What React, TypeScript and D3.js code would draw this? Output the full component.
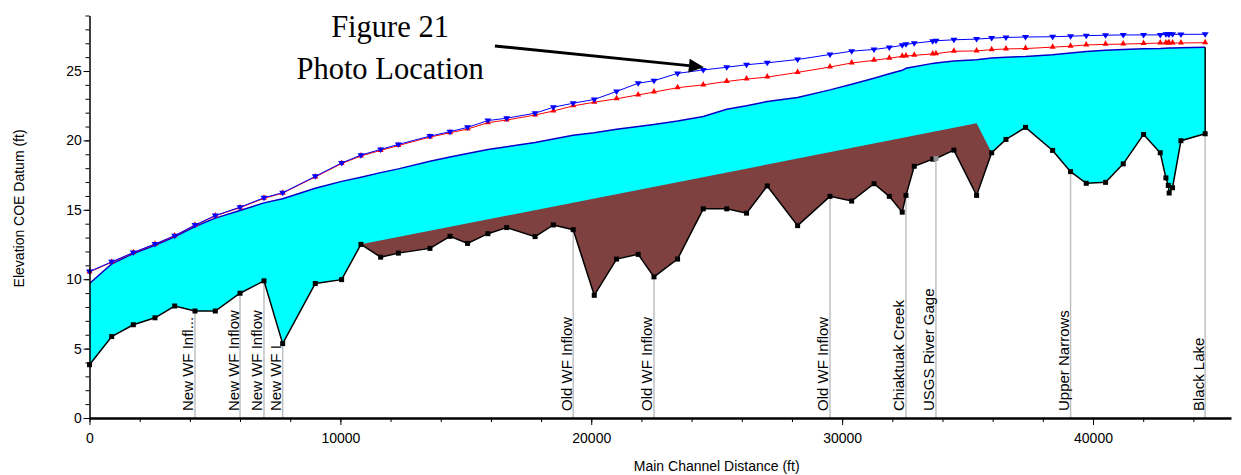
import React, { useEffect, useRef } from "react";
import * as d3 from "d3";

const width = 1241;
const height = 475;
const margin = { top: 15.5, right: 10, bottom: 57, left: 89.5 };

// cross sections (main channel distance, ft)
const stations = [
  0, 885, 1746, 2611, 3395, 4205, 5015, 6000, 6955, 7700, 9000, 10050, 10820,
  11605, 12310, 13570, 14370, 15070, 15880, 16630, 17760, 18490, 19280, 20120,
  21010, 21870, 22500, 23440, 24465, 25400, 26190, 27015, 28225, 29515, 30380,
  31270, 31880, 32395, 32545, 32875, 33610, 33740, 34455, 35360, 35960, 36530,
  37310, 38390, 39105, 39730, 40500, 41205, 42015, 42680, 42905, 43000, 43035,
  43170, 43505, 44470,
];

// channel bed
const bedElev = [
  3.84, 5.87, 6.72, 7.22, 8.07, 7.71, 7.71, 8.99, 9.88, 5.36, 9.69, 9.97, 12.51,
  11.59, 11.88, 12.22, 13.09, 12.58, 13.28, 13.72, 13.07, 13.91, 13.57, 8.84,
  11.45, 11.79, 10.17, 11.45, 15.07, 15.07, 14.76, 16.72, 13.86, 15.97, 15.63,
  16.88, 15.97, 14.83, 16.04, 18.14, 18.65, 18.7, 19.3, 16.04, 19.11, 20.07,
  20.94, 19.28, 17.75, 16.91, 16.98, 18.31, 20.43, 19.11, 17.3, 16.76, 16.21,
  16.59, 19.98, 20.48,
];

// water surface (cyan fill top)
const wsElev = [
  9.69, 11.1, 11.85, 12.45, 13.05, 13.8, 14.4, 14.95, 15.5, 15.8, 16.55, 17.05,
  17.35, 17.68, 17.95, 18.5, 18.8, 19.05, 19.35, 19.55, 19.85, 20.1, 20.38,
  20.55, 20.8, 21.0, 21.15, 21.4, 21.72, 22.25, 22.5, 22.8, 23.1, 23.64, 24.05,
  24.48, 24.8, 25.05, 25.2, 25.3, 25.55, 25.58, 25.72, 25.82, 25.94, 26.0,
  26.05, 26.18, 26.3, 26.4, 26.5, 26.55, 26.6, 26.62, 26.64, 26.65, 26.65,
  26.66, 26.68, 26.72,
];

// profile shown with blue down-triangles
const blueElev = [
  10.56, 11.25, 11.93, 12.54, 13.14, 13.91, 14.59, 15.19, 15.87, 16.23, 17.41,
  18.38, 18.94, 19.35, 19.71, 20.31, 20.63, 20.94, 21.43, 21.6, 21.96, 22.39,
  22.68, 22.95, 23.53, 24.12, 24.3, 24.83, 25.08, 25.27, 25.45, 25.59, 25.83,
  26.19, 26.43, 26.55, 26.7, 26.85, 26.92, 27.0, 27.15, 27.18, 27.25, 27.3,
  27.37, 27.42, 27.45, 27.47, 27.51, 27.55, 27.58, 27.6, 27.6, 27.6, 27.65,
  27.65, 27.65, 27.65, 27.64, 27.65,
];

// profile shown with red up-triangles
const redElev = [
  10.52, 11.22, 11.9, 12.51, 13.11, 13.88, 14.56, 15.15, 15.83, 16.2, 17.37,
  18.33, 18.88, 19.28, 19.63, 20.24, 20.55, 20.82, 21.28, 21.47, 21.83, 22.12,
  22.49, 22.75, 23.0, 23.28, 23.48, 23.8, 24.0, 24.25, 24.42, 24.56, 24.9,
  25.29, 25.58, 25.77, 25.92, 26.06, 26.08, 26.13, 26.23, 26.25, 26.42, 26.45,
  26.54, 26.59, 26.62, 26.72, 26.79, 26.88, 26.92, 26.94, 26.98, 27.02, 27.02,
  27.02, 27.02, 27.02, 27.02, 27.04,
];

// sediment deposit top
const sedimentStations = [10820, 35360, 35960];
const sedimentElev = [12.51, 21.23, 19.11];

const labelStations = [4205, 6000, 6955, 7700, 19280, 22500, 29515, 32545, 33740, 39105, 44470];
const labelTexts = [
  "New WF Infl...",
  "New WF Inflow",
  "New WF Inflow",
  "New WF I",
  "Old WF Inflow",
  "Old WF Inflow",
  "Old WF Inflow",
  "Chiaktuak Creek",
  "USGS River Gage",
  "Upper Narrows",
  "Black Lake",
];
const gageStation = 33740;

const xTicks = [0, 10000, 20000, 30000, 40000];
const yTicks = [0, 5, 10, 15, 20, 25];

const arrowFrom = [16160, 26.8];
const arrowTo = [24490, 25.28];

const sans = "Arial, 'Liberation Sans', sans-serif";
const serif = "'Times New Roman', 'Liberation Serif', serif";

export default function App() {
  const ref = useRef<SVGSVGElement>(null);

  useEffect(() => {
    const svg = d3.select(ref.current);
    svg.selectAll("*").remove();

    const x = d3.scaleLinear().domain([0, 45500]).range([margin.left, width - margin.right]);
    const y = d3.scaleLinear().domain([0, 29]).range([height - margin.bottom, margin.top]);

    const rows = stations.map((s, i) => ({
      s,
      bed: bedElev[i],
      ws: wsElev[i],
      blue: blueElev[i],
      red: redElev[i],
    }));
    const bedAt = (s: number) => bedElev[stations.indexOf(s)];

    // water
    const area = d3
      .area<any>()
      .x(d => x(d.s))
      .y0(d => y(d.bed))
      .y1(d => y(d.ws));
    svg.append("path").datum(rows).attr("d", area).attr("fill", "#00ffff");

    // sediment
    const sed = sedimentStations.map((s, i) => [x(s), y(sedimentElev[i])]);
    const bedBack = rows
      .filter(d => d.s >= sedimentStations[0] && d.s <= sedimentStations[sedimentStations.length - 1])
      .reverse()
      .map(d => [x(d.s), y(d.bed)]);
    svg
      .append("path")
      .attr("d", "M" + sed.concat(bedBack).join("L") + "Z")
      .attr("fill", "#7f4040");

    // cross-section markers
    svg
      .append("g")
      .selectAll("line")
      .data(labelStations)
      .join("line")
      .attr("x1", d => x(d))
      .attr("x2", d => x(d))
      .attr("y1", d => y(bedAt(d)))
      .attr("y2", y(0))
      .attr("stroke", "#c0c0c0")
      .attr("stroke-width", 1.5);

    svg
      .append("g")
      .selectAll("text")
      .data(labelStations)
      .join("text")
      .attr("transform", d => `translate(${x(d) - 1.5},${y(0) - 7}) rotate(-90)`)
      .attr("font-family", sans)
      .attr("font-size", 15)
      .attr("fill", "#000")
      .text((d, i) => labelTexts[i]);

    // water surface line
    svg
      .append("path")
      .datum(rows)
      .attr("d", d3.line<any>().x(d => x(d.s)).y(d => y(d.ws)))
      .attr("fill", "none")
      .attr("stroke", "#0000c8")
      .attr("stroke-width", 1.5);

    // right bank edge
    const last = rows[rows.length - 1];
    svg
      .append("line")
      .attr("x1", x(last.s))
      .attr("x2", x(last.s))
      .attr("y1", y(last.bed))
      .attr("y2", y(last.ws))
      .attr("stroke", "#000")
      .attr("stroke-width", 1.5);

    // bed line
    svg
      .append("path")
      .datum(rows)
      .attr("d", d3.line<any>().x(d => x(d.s)).y(d => y(d.bed)))
      .attr("fill", "none")
      .attr("stroke", "#000")
      .attr("stroke-width", 1.5);
    svg
      .append("g")
      .selectAll("rect")
      .data(rows)
      .join("rect")
      .attr("x", d => x(d.s) - 2.5)
      .attr("y", d => y(d.bed) - 2.5)
      .attr("width", 5)
      .attr("height", 5)
      .attr("fill", d => (d.s === gageStation ? "#909090" : "#000"));

    // red profile
    svg
      .append("path")
      .datum(rows)
      .attr("d", d3.line<any>().x(d => x(d.s)).y(d => y(d.red)))
      .attr("fill", "none")
      .attr("stroke", "#ff0000")
      .attr("stroke-width", 1);
    svg
      .append("g")
      .attr("fill", "#ff0000")
      .selectAll("path")
      .data(rows)
      .join("path")
      .attr("d", d => {
        const cx = x(d.s), cy = y(d.red);
        return `M${cx},${cy - 4}L${cx + 3},${cy + 1.5}L${cx - 3},${cy + 1.5}Z`;
      });

    // blue profile
    svg
      .append("path")
      .datum(rows)
      .attr("d", d3.line<any>().x(d => x(d.s)).y(d => y(d.blue)))
      .attr("fill", "none")
      .attr("stroke", "#0000ff")
      .attr("stroke-width", 1);
    svg
      .append("g")
      .attr("fill", "#0000ff")
      .selectAll("path")
      .data(rows)
      .join("path")
      .attr("d", d => {
        const cx = x(d.s), cy = y(d.blue);
        return `M${cx - 3.5},${cy - 2}L${cx + 3.5},${cy - 2}L${cx},${cy + 3.5}Z`;
      });

    // axes
    const xAxis = svg.append("g").attr("transform", `translate(0,${y(0)})`);
    xAxis
      .append("g")
      .call(d3.axisBottom(x).tickValues(d3.range(0, 45001, 2000)).tickSize(4).tickSizeOuter(0).tickFormat(() => ""))
      .call(g => g.select(".domain").attr("stroke-width", 2.5));
    xAxis
      .append("g")
      .call(d3.axisBottom(x).tickValues(xTicks).tickSize(7).tickSizeOuter(0).tickFormat(d3.format("d")))
      .call(g => g.select(".domain").remove())
      .call(g => g.selectAll("text").attr("font-size", 14).attr("font-family", sans).attr("dy", "1.05em"));

    const yAxis = svg.append("g").attr("transform", `translate(${margin.left},0)`);
    yAxis
      .append("g")
      .call(d3.axisLeft(y).tickValues(d3.range(0, 30, 1)).tickSize(4).tickSizeOuter(0).tickFormat(() => ""))
      .call(g => g.select(".domain").attr("stroke-width", 1.5));
    yAxis
      .append("g")
      .call(d3.axisLeft(y).tickValues(yTicks).tickSize(6).tickSizeOuter(0).tickFormat(d3.format("d")))
      .call(g => g.select(".domain").remove())
      .call(g => g.selectAll("text").attr("font-size", 14).attr("font-family", sans).attr("dx", "0.1em"));

    svg
      .append("text")
      .attr("transform", `translate(24,${y(15.1)}) rotate(-90)`)
      .attr("text-anchor", "middle")
      .attr("font-family", sans)
      .attr("font-size", 14)
      .text("Elevation COE Datum (ft)");

    svg
      .append("text")
      .attr("x", x(25000))
      .attr("y", 471)
      .attr("text-anchor", "middle")
      .attr("font-family", sans)
      .attr("font-size", 14)
      .text("Main Channel Distance (ft)");

    // annotation
    const note = svg.append("g").attr("font-family", serif).attr("font-size", 30.5).attr("text-anchor", "middle");
    note.append("text").attr("x", x(11980)).attr("y", y(27.45)).text("Figure 21");
    note.append("text").attr("x", x(11980)).attr("y", y(24.45)).text("Photo Location");

    const [x0, y0] = [x(arrowFrom[0]), y(arrowFrom[1])];
    const [x1, y1] = [x(arrowTo[0]), y(arrowTo[1])];
    const ang = Math.atan2(y1 - y0, x1 - x0);
    const headLen = 15;
    const headW = 7;
    const bx = x1 - headLen * Math.cos(ang);
    const by = y1 - headLen * Math.sin(ang);
    svg
      .append("line")
      .attr("x1", x0)
      .attr("y1", y0)
      .attr("x2", bx)
      .attr("y2", by)
      .attr("stroke", "#000")
      .attr("stroke-width", 3);
    svg
      .append("path")
      .attr(
        "d",
        `M${x1},${y1}L${bx + headW * Math.sin(ang)},${by - headW * Math.cos(ang)}L${bx - headW * Math.sin(ang)},${by + headW * Math.cos(ang)}Z`
      )
      .attr("fill", "#000");
  }, []);

  return (
    <svg
      ref={ref}
      width={width}
      height={height}
      style={{ position: "absolute", left: 0, top: 0, background: "#fff" }}
    />
  );
}
